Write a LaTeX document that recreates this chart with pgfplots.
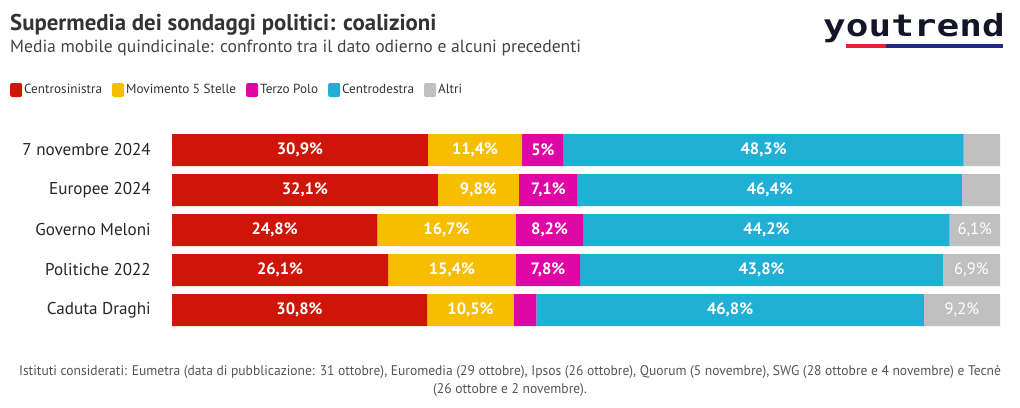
\documentclass[border=0pt]{standalone}
\usepackage{pgfplots}
\pgfplotsset{compat=1.18}
\usepackage{pgfplotstable}
\usepackage{fontspec}
\setmainfont{PT Sans}
\newfontfamily\logofont{DejaVu Sans Mono}

\definecolor{cred}{HTML}{CF1508}
\definecolor{cyel}{HTML}{F7BE00}
\definecolor{cmag}{HTML}{E005A5}
\definecolor{ccyan}{HTML}{20AFD5}
\definecolor{cgray}{HTML}{C0C0C0}
\definecolor{ctitle}{HTML}{333333}
\definecolor{csub}{HTML}{444444}
\definecolor{cfoot}{HTML}{555555}
\definecolor{logored}{HTML}{E8203A}
\definecolor{logoblue}{HTML}{1F2A8C}
\definecolor{logotext}{HTML}{15152A}

\pgfplotstableread{
row cs m5s tp cd altri lcs lm5s ltp lcd laltri
0 30.9 11.4 5.0 48.3 4.4 30,9\% 11,4\% 5\% 48,3\% {}
1 32.1 9.8 7.1 46.4 4.6 32,1\% 9,8\% 7,1\% 46,4\% {}
2 24.8 16.7 8.2 44.2 6.1 24,8\% 16,7\% 8,2\% 44,2\% 6,1\%
3 26.1 15.4 7.8 43.8 6.9 26,1\% 15,4\% 7,8\% 43,8\% 6,9\%
4 30.8 10.5 2.7 46.8 9.2 30,8\% 10,5\% {} 46,8\% 9,2\%
}\datatable

\pgfplotsset{
  lbl/.style={
    point meta=explicit symbolic,
    nodes near coords,
    every node near coord/.style={anchor=center, inner sep=0pt,
      font=#1\fontsize{16.5}{16.5}\selectfont, text=white},
  },
}

\begin{document}
\begin{tikzpicture}[x=1pt,y=1pt]
\useasboundingbox (0pt,0pt) rectangle (1020pt,407pt);
% titles
\node[anchor=base west, inner sep=0pt, text=ctitle, font=\bfseries\fontsize{22.8}{22.8}\selectfont] at (10pt,376pt) {Supermedia dei sondaggi politici: coalizioni};
\node[anchor=base west, inner sep=0pt, text=csub, font=\fontsize{17.6}{17.6}\selectfont] at (10pt,354pt) {Media mobile quindicinale: confronto tra il dato odierno e alcuni precedenti};
% logo
\node[anchor=base west, inner sep=0pt, text=logotext] at (823pt,370pt) {\scalebox{1.3}[1.05]{\logofont\bfseries\fontsize{29}{29}\selectfont youtrend}};
\fill[logored] (846pt,359pt) rectangle (886pt,363pt);
\fill[logoblue] (886pt,359pt) rectangle (1003pt,363pt);
% footnote
\node[anchor=base, inner sep=0pt, text=cfoot] at (510pt,31pt) {\scalebox{0.967}[1]{\fontsize{14}{14}\selectfont Istituti considerati: Eumetra (data di pubblicazione: 31 ottobre), Euromedia (29 ottobre), Ipsos (26 ottobre), Quorum (5 novembre), SWG (28 ottobre e 4 novembre) e Tecnè}};
\node[anchor=base, inner sep=0pt, text=cfoot] at (510pt,13pt) {\scalebox{0.967}[1]{\fontsize{14}{14}\selectfont (26 ottobre e 2 novembre).}};

\begin{axis}[
  at={(172pt,77pt)}, anchor=south west,
  width=828pt, height=200pt, scale only axis,
  xbar stacked, bar width=32pt,
  xmin=0, xmax=100, ymin=-0.5, ymax=4.5, y dir=reverse,
  hide x axis,
  axis y line*=left, y axis line style={draw=none},
  ytick={0,1,2,3,4},
  yticklabels={7 novembre 2024, Europee 2024, Governo Meloni, Politiche 2022, Caduta Draghi},
  major tick length=0pt,
  yticklabel style={anchor=east, inner sep=0pt, xshift=-21pt, font=\fontsize{17.1}{17.1}\selectfont, text=black!85},
  legend columns=-1,
  legend style={at={(axis description cs:-0.1957,1.2)}, anchor=west, draw=none, fill=none,
    inner sep=0pt, font=\fontsize{13.2}{13.2}\selectfont, text=ctitle,
    /tikz/every even column/.append style={column sep=8pt}},
  legend image code/.code={\fill[rounded corners=2pt] (0pt,-7pt) rectangle (12pt,7pt);},
]
\addplot[fill=cred, draw=none, lbl=\bfseries] table[x=cs, y=row, meta=lcs] {\datatable};
\addlegendentry{Centrosinistra}
\addplot[fill=cyel, draw=none, lbl=\bfseries] table[x=m5s, y=row, meta=lm5s] {\datatable};
\addlegendentry{Movimento 5 Stelle}
\addplot[fill=cmag, draw=none, lbl=\bfseries] table[x=tp, y=row, meta=ltp] {\datatable};
\addlegendentry{Terzo Polo}
\addplot[fill=ccyan, draw=none, lbl=\bfseries] table[x=cd, y=row, meta=lcd] {\datatable};
\addlegendentry{Centrodestra}
\addplot[fill=cgray, draw=none, lbl={}] table[x=altri, y=row, meta=laltri] {\datatable};
\addlegendentry{Altri}
\end{axis}
\end{tikzpicture}
\end{document}
